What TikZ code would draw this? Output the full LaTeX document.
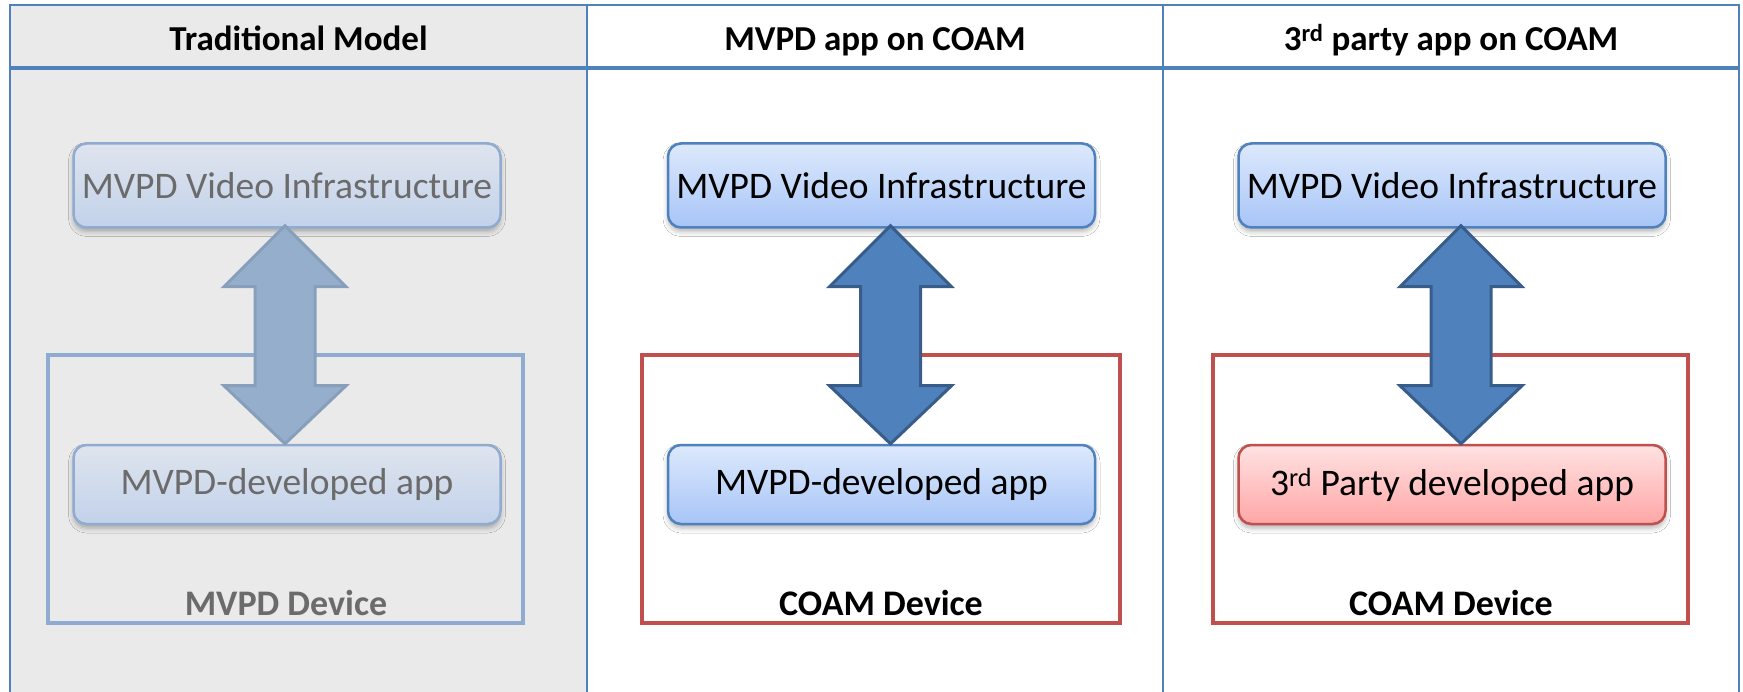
\documentclass[tikz,border=0pt]{standalone}
\usepackage{fontspec}
\setmainfont{Carlito}
\usetikzlibrary{calc,shadows.blur}

\definecolor{frameblue}{HTML}{4F81BD}
\definecolor{fadebg}{HTML}{EAEAEA}
\definecolor{boxtop}{HTML}{DDE9FC}
\definecolor{boxbot}{HTML}{A7C5F7}
\definecolor{fadetop}{HTML}{DFE4EE}
\definecolor{fadebot}{HTML}{C2D2EA}
\definecolor{fadeedge}{HTML}{8FABCF}
\definecolor{fadetext}{HTML}{6B6B6B}
\definecolor{redtop}{HTML}{FFE2E2}
\definecolor{redbot}{HTML}{FFA6A6}
\definecolor{rededge}{HTML}{C0504D}
\definecolor{arrowfill}{HTML}{4F81BD}
\definecolor{arrowedge}{HTML}{385D8A}
\definecolor{fadearrow}{HTML}{95AECB}
\definecolor{fadearrowedge}{HTML}{889FBB}

\tikzset{
  boxbase/.style={rectangle, rounded corners=13pt, line width=2.5pt,
    minimum width=427pt, minimum height=84pt, inner sep=0pt,
    font=\fontsize{37.5}{44}\selectfont,
    blur shadow={shadow xshift=0pt, shadow yshift=-4pt,
      shadow blur radius=5pt, shadow opacity=30}},
  bluebox/.style={boxbase, draw=frameblue, top color=boxtop, bottom color=boxbot},
  fadebox/.style={boxbase, draw=fadeedge, top color=fadetop, bottom color=fadebot, text=fadetext},
  redbox/.style={boxbase, draw=rededge, top color=redtop, bottom color=redbot},
  devbox/.style={rectangle, line width=4pt, inner sep=0pt},
  devlabel/.style={anchor=base, font=\fontsize{36}{43}\selectfont\bfseries},
  headtext/.style={anchor=base, font=\fontsize{35}{42}\selectfont\bfseries},
  bigarrow/.style={line width=3pt, line join=miter, fill=arrowfill, draw=arrowedge},
  fadearrowstyle/.style={line width=3pt, line join=miter, fill=fadearrow, draw=fadearrowedge},
  gridline/.style={draw=frameblue, line width=2.5pt},
}

% double-headed block arrow between two tip coordinates
\newcommand{\blockarrow}[3]{%
  \draw[#1] (#2) -- ($(#2)+(61,61)$) -- ($(#2)+(30,61)$)
    -- ($(#3)+(30,-58)$) -- ($(#3)+(61,-58)$) -- (#3)
    -- ($(#3)+(-61,-58)$) -- ($(#3)+(-30,-58)$)
    -- ($(#2)+(-30,61)$) -- ($(#2)+(-61,61)$) -- cycle;}

\begin{document}
\begin{tikzpicture}[x=1pt,y=-1pt]
\useasboundingbox (0,0) rectangle (1743,692);
\fill[white] (0,0) rectangle (1743,692);

% shaded first column
\fill[fadebg] (10,5) rectangle (587,692);

% table grid
\draw[gridline] (10,692) -- (10,5) -- (1739,5) -- (1739,692);
\draw[gridline] (587,5) -- (587,692);
\draw[gridline] (1163,5) -- (1163,692);
\draw[draw=frameblue, line width=4pt] (10,68) -- (1739,68);

% column headings
\node[headtext] (h1) at (298.5,51) {Traditional Model};
\node[headtext] (h2) at (875,51) {MVPD app on COAM};
\node[headtext] (h3) at (1451,51) {3\textsuperscript{rd} party app on COAM};

% device outlines
\node[devbox, draw=fadeedge, minimum width=475pt, minimum height=268pt] (dev1) at (285.5,489) {};
\node[devbox, draw=rededge, minimum width=478pt, minimum height=268pt] (dev2) at (881,489) {};
\node[devbox, draw=rededge, minimum width=475pt, minimum height=268pt] (dev3) at (1450.5,489) {};

% infrastructure boxes
\node[fadebox] (inf1) at (287,185.5) {MVPD Video Infrastructure};
\node[bluebox] (inf2) at (881.5,185.5) {MVPD Video Infrastructure};
\node[bluebox] (inf3) at (1452,185.5) {MVPD Video Infrastructure};

% app boxes
\node[fadebox, minimum height=79pt] (app1) at (287,484.5) {MVPD-developed app};
\node[bluebox, minimum height=79pt] (app2) at (881.5,484.5) {MVPD-developed app};
\node[redbox, minimum height=79pt] (app3) at (1452,484.5) {3\textsuperscript{rd} Party developed app};

% arrow end points
\coordinate (t1) at ($(inf1.south)+(-2,-3)$);
\coordinate (b1) at ($(app1.north)+(-2,0)$);
\coordinate (t2) at ($(inf2.south)+(9,-3)$);
\coordinate (b2) at ($(app2.north)+(9,0)$);
\coordinate (t3) at ($(inf3.south)+(9,-3)$);
\coordinate (b3) at ($(app3.north)+(9,0)$);

\blockarrow{fadearrowstyle}{t1}{b1}
\blockarrow{bigarrow}{t2}{b2}
\blockarrow{bigarrow}{t3}{b3}

% device labels
\node[devlabel, text=fadetext] (l1) at (286,615.5) {MVPD Device};
\node[devlabel] (l2) at (881,615.5) {COAM Device};
\node[devlabel] (l3) at (1451,615.5) {COAM Device};
\end{tikzpicture}
\end{document}
